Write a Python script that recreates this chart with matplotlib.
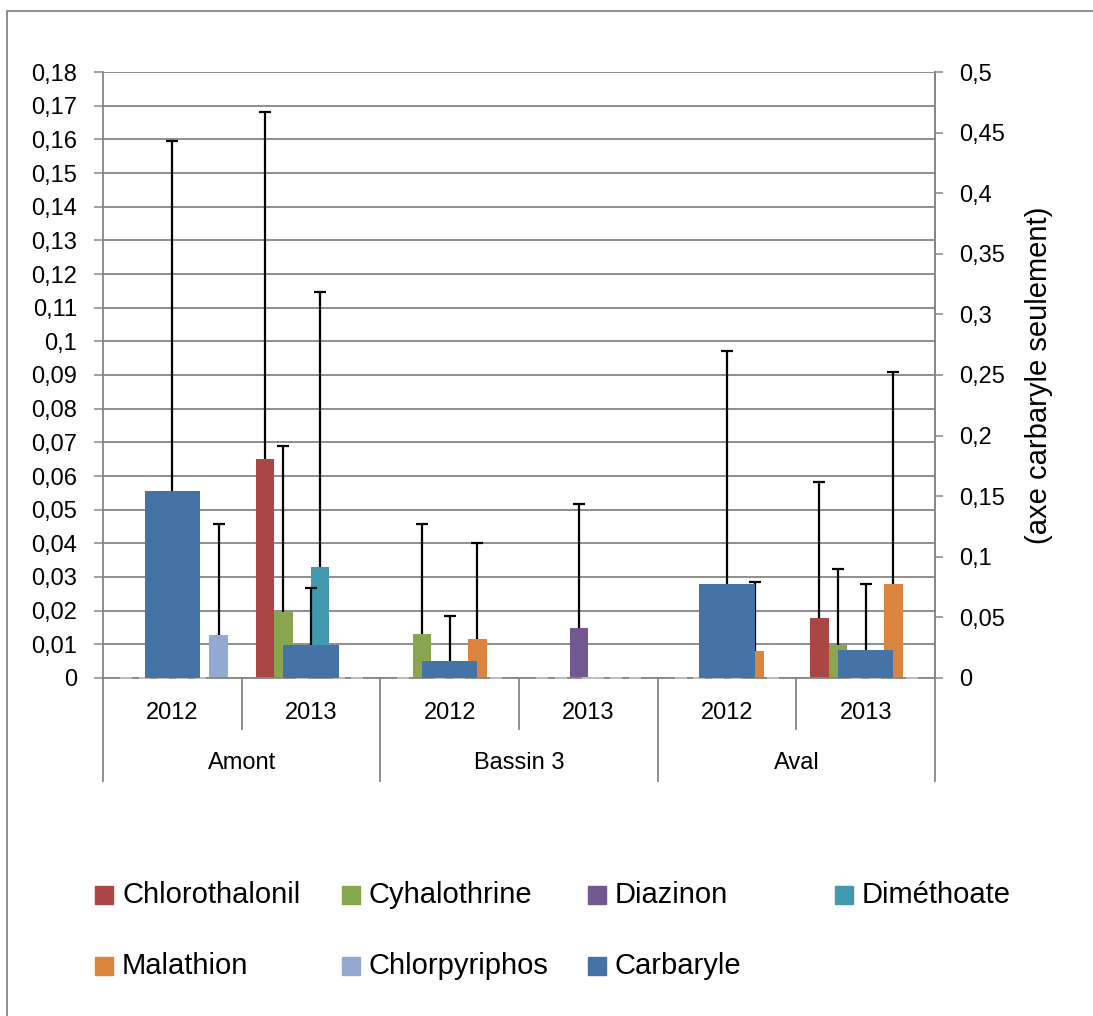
import matplotlib
matplotlib.use("Agg")
from matplotlib import pyplot as plt
from matplotlib.patches import Rectangle
from matplotlib.lines import Line2D
import numpy as np

plt.rcParams['font.family'] = ['Liberation Sans', 'DejaVu Sans']

# categories (site / year)
groups = ['Amont', 'Bassin 3', 'Aval']
years = ['2012', '2013']

# primary axis series (mean, error above)
series = ['Chlorothalonil', 'Cyhalothrine', 'Diazinon', 'Diméthoate', 'Malathion', 'Chlorpyriphos']
colors = ['#AA4643', '#89A54E', '#71588F', '#4198AF', '#DB843D', '#93A9CF']
chlorothalonil = [0, 0.065, 0, 0, 0, 0.0178]
chlorothalonil_err = [0, 0.103, 0, 0, 0, 0.0404]
cyhalothrine = [0, 0.0197, 0.0131, 0, 0, 0.0097]
cyhalothrine_err = [0, 0.0491, 0.0327, 0, 0, 0.0226]
diazinon = [0, 0, 0, 0.0148, 0, 0]
diazinon_err = [0, 0, 0, 0.0368, 0, 0]
dimethoate = [0, 0.0329, 0, 0, 0, 0]
dimethoate_err = [0, 0.0817, 0, 0, 0, 0]
malathion = [0, 0, 0.0115, 0, 0.008, 0.0278]
malathion_err = [0, 0, 0.0286, 0, 0.0206, 0.063]
chlorpyriphos = [0.0129, 0, 0, 0, 0, 0]
chlorpyriphos_err = [0.0328, 0, 0, 0, 0, 0]

# secondary axis series
carbaryle = [0.154, 0.0272, 0.0144, 0, 0.0778, 0.0235]
carbaryle_err = [0.289, 0.0472, 0.037, 0, 0.192, 0.054]
carb_color = '#4572A7'

values = [chlorothalonil, cyhalothrine, diazinon, dimethoate, malathion, chlorpyriphos]
errors = [chlorothalonil_err, cyhalothrine_err, diazinon_err, dimethoate_err, malathion_err, chlorpyriphos_err]

W, H = 1093, 1016
grey = '#868686'


def upper_err(axis, pos, val, err):
    # plus-only error bar, cap only at the top like Excel
    pos = np.asarray(pos, float)
    val = np.asarray(val, float)
    err = np.asarray(err, float)
    top = val + err
    nz = top > 0
    axis.vlines(pos[nz], val[nz], top[nz], color='black', linewidth=1.6, zorder=3)
    axis.plot(pos[nz], top[nz], ls='none', marker='_', markersize=8.6,
              markeredgewidth=1.6, color='black', zorder=3)
    axis.plot(pos[~nz], top[~nz], ls='none', marker='_', markersize=8.6,
              markeredgewidth=1.2, color='#c8c8c8', zorder=3, clip_on=False)


fig = plt.figure(figsize=(W / 100, H / 100), dpi=100)
ax = fig.add_axes([103 / W, 1 - 678 / H, 832 / W, 606 / H])

x = np.arange(6)
w = 0.8 / 6
for i in range(6):
    pos = x + (i - 2.5) * w
    ax.bar(pos, values[i], w, color=colors[i], zorder=2)
    upper_err(ax, pos, values[i], errors[i])

ax.set_xlim(-0.5, 5.5)
ax.set_ylim(0, 0.18)
yt = np.round(np.arange(0, 0.181, 0.01), 2)
ax.set_yticks(yt)
ax.set_yticklabels([f'{v:g}'.replace('.', ',') for v in yt])
ax.yaxis.grid(True, color=grey, linewidth=1.3)
ax.set_axisbelow(True)
ax.tick_params(axis='y', length=6.5, width=1.1, color=grey, pad=12, labelsize=17)
ax.set_xticks([])
ax.spines['top'].set_visible(False)
for s in ['left', 'bottom', 'right']:
    ax.spines[s].set_color(grey)
    ax.spines[s].set_linewidth(1.3)

ax2 = ax.twinx()
ax2.bar(x, carbaryle, 0.4, color=carb_color, zorder=2)
upper_err(ax2, x, carbaryle, carbaryle_err)
ax2.set_ylim(0, 0.5)
yt2 = np.round(np.arange(0, 0.501, 0.05), 2)
ax2.set_yticks(yt2)
ax2.set_yticklabels([f'{v:g}'.replace('.', ',') for v in yt2])
ax2.tick_params(axis='y', length=6, width=1.1, color=grey, pad=11.5, labelsize=17)
ax2.set_ylabel('(axe carbaryle seulement)', fontsize=21, labelpad=14)
for s in ['top', 'left', 'bottom']:
    ax2.spines[s].set_visible(False)
ax2.spines['right'].set_color(grey)
ax2.spines['right'].set_linewidth(1.3)

# two-level category axis
tr = ax.get_xaxis_transform()
for k in range(6):
    ax.text(k, -0.058, years[k % 2], transform=tr, ha='center', va='center', fontsize=17)
for g in range(3):
    ax.text(2 * g + 0.5, -0.140, groups[g], transform=tr, ha='center', va='center', fontsize=17)
for b in np.arange(-0.5, 6, 1.0):
    long_line = (b + 0.5) % 2 == 0
    ax.add_line(Line2D([b, b], [0, -0.170 if long_line else -0.084], transform=tr,
                       color=grey, linewidth=1.3, clip_on=False))

# legend drawn in figure pixel space
leg_names = series + ['Carbaryle']
leg_colors = colors + [carb_color]
col_x = [95, 342, 588, 835]
row_y = [895, 966]
for n, (name, c) in enumerate(zip(leg_names, leg_colors)):
    cx = col_x[n % 4]
    cy = row_y[n // 4]
    fig.patches.append(Rectangle((cx / W, 1 - (cy + 9) / H), 18 / W, 18 / H,
                                 transform=fig.transFigure, color=c))
    fig.text((cx + 27) / W, 1 - cy / H, name, fontsize=21, va='center', ha='left')

# chart border
fig.patches.append(Rectangle((7 / W, -0.01), 1.1, 1.01 - 11 / H, transform=fig.transFigure,
                             fill=False, edgecolor=grey, linewidth=1.3))

fig.savefig('out.png', dpi=100)
